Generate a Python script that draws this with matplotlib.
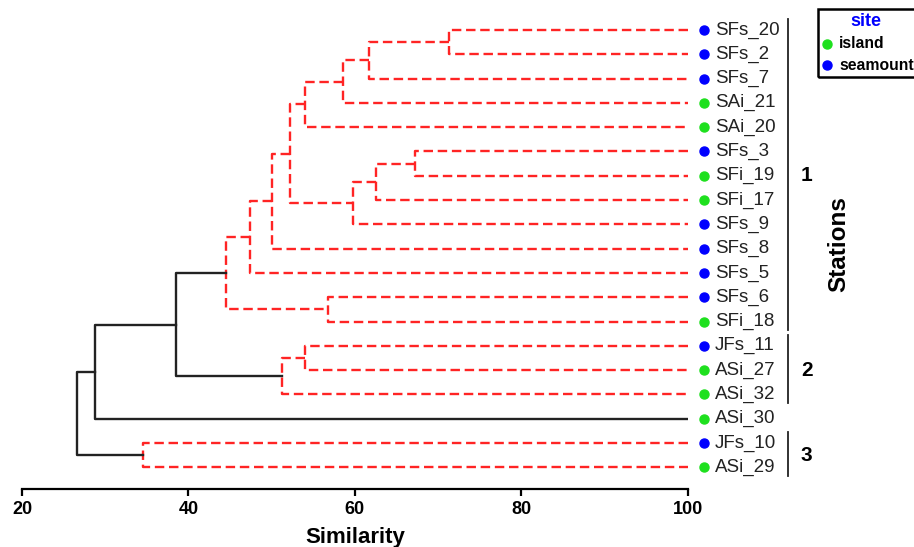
import matplotlib
matplotlib.use("Agg")
import matplotlib.pyplot as plt
from matplotlib.patches import Rectangle

plt.rcParams['font.family'] = ['Liberation Sans', 'DejaVu Sans']

# Data
leaves = ["SFs_20", "SFs_2", "SFs_7", "SAi_21", "SAi_20", "SFs_3", "SFi_19",
          "SFi_17", "SFs_9", "SFs_8", "SFs_5", "SFs_6", "SFi_18", "JFs_11",
          "ASi_27", "ASi_32", "ASi_30", "JFs_10", "ASi_29"]
sites = ["seamount", "seamount", "seamount", "island", "island", "seamount",
         "island", "island", "seamount", "seamount", "seamount", "seamount",
         "island", "seamount", "island", "island", "island", "seamount", "island"]

# merges: left child, right child, similarity, significant (SIMPROF)
merge_left = ["SFs_20", "m0", "m1", "m2", "SFs_3", "m4", "m5", "m3", "m7", "m8",
              "SFs_6", "m9", "JFs_11", "m12", "m11", "m14", "JFs_10", "m15"]
merge_right = ["SFs_2", "SFs_7", "SAi_21", "SAi_20", "SFi_19", "SFi_17", "SFs_9",
               "m6", "SFs_8", "SFs_5", "SFi_18", "m10", "ASi_27", "ASi_32",
               "m13", "ASi_30", "ASi_29", "m16"]
merge_sim = [71.3, 61.7, 58.6, 54.0, 67.2, 62.5, 59.8, 52.2, 50.0, 47.4,
             56.8, 44.5, 54.0, 51.2, 38.5, 28.8, 34.6, 26.6]
merge_sig = [True] * 14 + [False, False, True, False]

groups = ["1", "2", "3"]
group_first = ["SFs_20", "JFs_11", "JFs_10"]
group_last = ["SFi_18", "ASi_32", "ASi_29"]

site_colors = {"island": "#1EE01E", "seamount": "#0000FF"}

fig = plt.figure(figsize=(9.14, 5.47), dpi=100)
ax = fig.add_axes([22 / 914, 1 - 488.7 / 547, (687.7 - 22) / 914, (488.7 - 10) / 547])

# node positions
pos = {name: (100.0, i) for i, name in enumerate(leaves)}
for k, (a, b, s, sig) in enumerate(zip(merge_left, merge_right, merge_sim, merge_sig)):
    xa, ya = pos[a]
    xb, yb = pos[b]
    if sig:
        kw = dict(color="#FF2424", lw=1.7, linestyle=(0, (4, 2)))
    else:
        kw = dict(color="#222222", lw=1.7, linestyle="-")
    ax.plot([xa, s, s, xb], [ya, ya, yb, yb], **kw)
    pos["m%d" % k] = (s, (ya + yb) / 2)

# leaf markers and labels
for i, (name, site) in enumerate(zip(leaves, sites)):
    ax.plot(102.0, i, "o", color=site_colors[site], markersize=6.5, clip_on=False)
    ax.text(103.3, i, name, fontsize=13.5, va="center", ha="left", color="#222222")

# group brackets
for g, a, b in zip(groups, group_first, group_last):
    ia, ib = leaves.index(a), leaves.index(b)
    ax.plot([112, 112], [ia - 0.45, ib + 0.35], color="#222222", lw=1.3, clip_on=False)
    ax.text(113.6, (ia + ib) / 2, g, fontsize=15, fontweight="bold", va="center", ha="left")

ax.text(118.2, 8.8, "Stations", rotation=90, fontsize=17.5, fontweight="bold",
        va="center", ha="center")

ax.set_xlim(20, 100)
ax.set_ylim(18 + (488.7 - 467.3) / 24.3, -(30 - 10) / 24.3)
for sp in ["top", "right", "left"]:
    ax.spines[sp].set_visible(False)
ax.spines["bottom"].set_linewidth(1.6)
ax.set_yticks([])
ax.set_xticks([20, 40, 60, 80, 100])
ax.tick_params(axis="x", length=5, width=1.6, labelsize=13, pad=4)
for t in ax.get_xticklabels():
    t.set_fontweight("bold")
ax.set_xlabel("Similarity", fontsize=16, fontweight="bold", labelpad=6)

# legend box
fig.patches.append(Rectangle((818 / 914, 1 - 77 / 547), 110 / 914, 68 / 547,
                             transform=fig.transFigure, fill=False,
                             edgecolor="black", lw=1.8))
fig.text(866 / 914, 1 - 21 / 547, "site", color="#0000FF", fontsize=13,
         fontweight="bold", ha="center", va="center")
for yy, lab in [(44, "island"), (65, "seamount")]:
    fig.lines.append(plt.Line2D([827 / 914], [1 - yy / 547], marker="o",
                                color=site_colors[lab], markersize=6.5,
                                transform=fig.transFigure))
    fig.text(839 / 914, 1 - yy / 547, lab, fontsize=11.3, fontweight="bold",
             ha="left", va="center")

fig.savefig("out.png", dpi=100)
